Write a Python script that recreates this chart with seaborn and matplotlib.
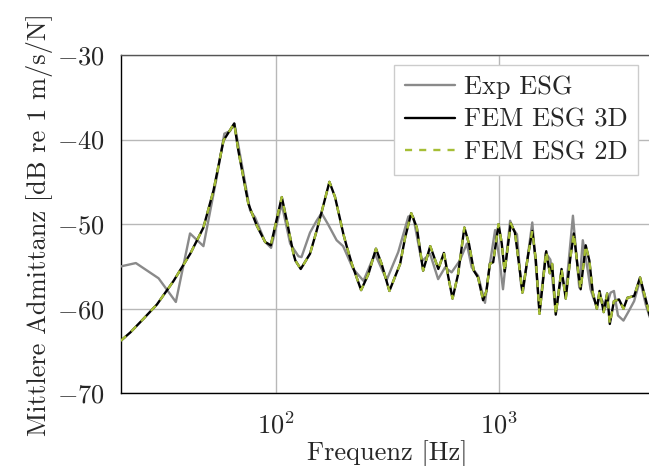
import matplotlib
matplotlib.use("Agg")
import matplotlib.pyplot as plt
from matplotlib.ticker import FixedLocator, NullFormatter
import seaborn as sns

# ---------------- data ----------------
exp_freq = [20, 23.4, 29.6, 35.4, 41.0, 47.1, 54.1, 58.5, 62.0, 64.9, 76.4, 80.4,
            89.2, 94.9, 105.9, 115.6, 126, 130, 142, 152, 160, 171, 187, 200, 222,
            247, 278, 314, 354, 393, 408, 414, 451, 492, 535, 575, 615, 670, 720,
            757, 809, 869, 914, 965, 1011, 1047, 1127, 1165, 1210, 1262, 1290,
            1418, 1528, 1630, 1710, 1808, 1920, 2005, 2160, 2306, 2392, 2519,
            2593, 2666, 2768, 2851, 3054, 3190, 3302, 3443, 3644, 3866, 4071,
            4328, 4590, 4784, 5000]
exp_db = [-55.0, -54.6, -56.4, -59.2, -51.1, -52.6, -44.4, -39.3, -39.0, -38.1, -48.4, -49.2,
          -52.1, -52.8, -47.6, -52.3, -53.8, -53.9, -51.0, -49.6, -48.7, -50.0, -51.9, -52.6, -55.3,
          -56.7, -53.5, -56.6, -53.3, -49.1, -49.0, -49.2, -54.4, -53.5, -56.5, -55.1, -55.7, -54.3, -52.3,
          -55.1, -56.1, -59.3, -54.7, -50.7, -54.3, -57.7, -49.6, -50.6, -51.2, -57.1, -57.9,
          -49.8, -60.2, -53.4, -54.2, -60.4, -56.0, -58.1, -49.0, -57.5, -51.9, -55.5,
          -57.7, -58.7, -59.7, -58.6, -59.8, -58.1, -57.9, -60.8, -61.4, -60.2, -59.1,
          -56.6, -59.5, -61.0, -61.0]

fem_freq = [20, 22.1, 25.3, 29.1, 34.6, 41.1, 47.1, 52.3, 58.0, 64.8, 67.6, 75,
            81.9, 89.2, 94.6, 106, 111.7, 119.6, 122, 129, 142, 152, 160, 173.6,
            184, 200.7, 208, 219, 241, 260, 281, 298, 323, 361, 380, 405, 429,
            458, 493, 536, 568, 595, 621, 658, 702, 736, 774, 809, 852, 882, 914,
            946, 1000, 1034, 1065, 1135, 1185, 1252, 1280, 1361, 1418, 1472, 1528,
            1638, 1700, 1742, 1808, 1920, 2005, 2100, 2180, 2287, 2340, 2465,
            2560, 2653, 2768, 2845, 2971, 3078, 3164, 3302, 3480, 3644, 3801,
            4071, 4328, 4590, 4784, 5000]
fem_3d_db = [-63.8, -62.8, -61.2, -59.5, -56.7, -53.5, -50.4, -46.0, -40.1, -38.1, -41.3, -47.6,
             -50.2, -52.1, -52.5, -46.8, -49.6, -53.5, -54.3, -55.3, -53.5, -50.8, -48.6, -45.0,
             -46.8, -51.2, -52.7, -54.7, -57.8, -55.9, -52.9, -54.7, -57.9, -54.7, -51.6, -48.7, -50.4,
             -55.5, -52.6, -55.3, -53.4, -56.3, -58.8, -55.9, -50.4, -52.3, -55.5, -56.3, -59.0, -57.9, -54.7,
             -54.5, -50.0, -52.3, -55.6, -49.9, -51.0, -55.9, -58.1, -53.5, -50.8, -54.3, -60.6,
             -53.2, -55.8, -54.7, -60.7, -55.3, -58.8, -54.1, -51.1, -55.9, -57.7, -52.5,
             -54.3, -58.1, -60.0, -57.9, -60.4, -58.2, -61.8, -59.1, -58.9, -60.0, -58.7,
             -58.5, -56.3, -58.9, -60.8, -61.2]
fem_2d_db = [-63.8, -62.8, -61.2, -59.5, -56.7, -53.5, -50.4, -46.0, -40.1, -38.1, -41.3, -47.6,
             -50.2, -52.1, -52.5, -46.8, -49.6, -53.5, -54.3, -55.3, -53.5, -50.8, -48.6, -45.0,
             -46.8, -51.2, -52.7, -54.7, -57.8, -55.9, -52.9, -54.7, -57.9, -54.7, -51.6, -48.7, -50.4,
             -55.5, -52.6, -55.3, -53.4, -56.3, -58.8, -55.9, -50.4, -52.3, -55.5, -56.3, -59.0, -57.9, -54.7,
             -54.5, -50.0, -52.3, -55.6, -49.9, -51.0, -55.9, -58.1, -53.5, -50.8, -54.3, -60.6,
             -53.2, -55.8, -54.7, -60.7, -55.3, -58.8, -54.1, -51.1, -55.9, -57.7, -52.5,
             -54.3, -58.1, -60.0, -57.9, -60.4, -58.2, -61.8, -59.1, -58.9, -60.0, -58.7,
             -58.5, -56.3, -58.9, -60.8, -61.2]

series_labels = ["Exp ESG", "FEM ESG 3D", "FEM ESG 2D"]
y_ticks = [-70, -60, -50, -40, -30]
x_minor_ticks = [200, 300, 400, 500, 600, 700, 800, 900]
x_label = "Frequenz [Hz]"
y_label = "Mittlere Admittanz [dB re 1 m/s/N]"

# ---------------- style ----------------
sns.set_style("white")
plt.rcParams["font.family"] = ["cmr10", "DejaVu Serif"]
plt.rcParams["mathtext.fontset"] = "cm"
plt.rcParams["axes.formatter.use_mathtext"] = True
plt.rcParams["axes.unicode_minus"] = True

FS = 19
fig = plt.figure(figsize=(6.49, 4.66), dpi=100)
ax = fig.add_axes([120.7 / 649, (466 - 393.3) / 466, (654 - 120.7) / 649, 338.3 / 466])

sns.lineplot(x=exp_freq, y=exp_db, ax=ax, color="#8a8a8a", lw=1.7,
             label=series_labels[0], estimator=None, sort=False, zorder=3)
sns.lineplot(x=fem_freq, y=fem_3d_db, ax=ax, color="black", lw=1.7,
             label=series_labels[1], estimator=None, sort=False, zorder=4)
sns.lineplot(x=fem_freq, y=fem_2d_db, ax=ax, color="#a6be36", lw=1.7,
             linestyle=(0, (3, 3)), label=series_labels[2], estimator=None,
             sort=False, zorder=5)

ax.set_xscale("log")
ax.set_xlim(20, 5000)
ax.set_ylim(-70, -30)
ax.set_yticks(y_ticks)
ax.xaxis.set_minor_locator(FixedLocator(x_minor_ticks))
ax.xaxis.set_minor_formatter(NullFormatter())

ax.grid(True, which="major", color="#b8b8b8", lw=1.0, zorder=0)
ax.grid(False, which="minor")
ax.set_axisbelow(True)

ax.tick_params(axis="both", which="major", direction="out", length=7.5,
               width=0.9, color="#b0b0b0", labelsize=FS, pad=4)
ax.tick_params(axis="x", which="major", pad=6)
ax.tick_params(axis="x", which="minor", direction="out", length=5.5,
               width=0.8, color="#555555")
ax.tick_params(axis="y", which="minor", left=False)

for side in ["left", "bottom"]:
    ax.spines[side].set_color("black")
    ax.spines[side].set_linewidth(1.0)
ax.spines["top"].set_color("#555555")
ax.spines["top"].set_linewidth(1.0)
ax.spines["right"].set_visible(False)

ax.set_xlabel(x_label, fontsize=FS, labelpad=1)
ax.set_ylabel(y_label, fontsize=FS, labelpad=3)

leg = ax.legend(loc="upper right", bbox_to_anchor=(0.9706, 0.970), fontsize=FS,
                frameon=True, fancybox=False, edgecolor="#cccccc", framealpha=1,
                handlelength=1.9, handletextpad=0.35, labelspacing=0.33,
                borderpad=0.4, borderaxespad=0.0)
leg.get_frame().set_linewidth(1.0)

fig.savefig("out.png", dpi=100)
